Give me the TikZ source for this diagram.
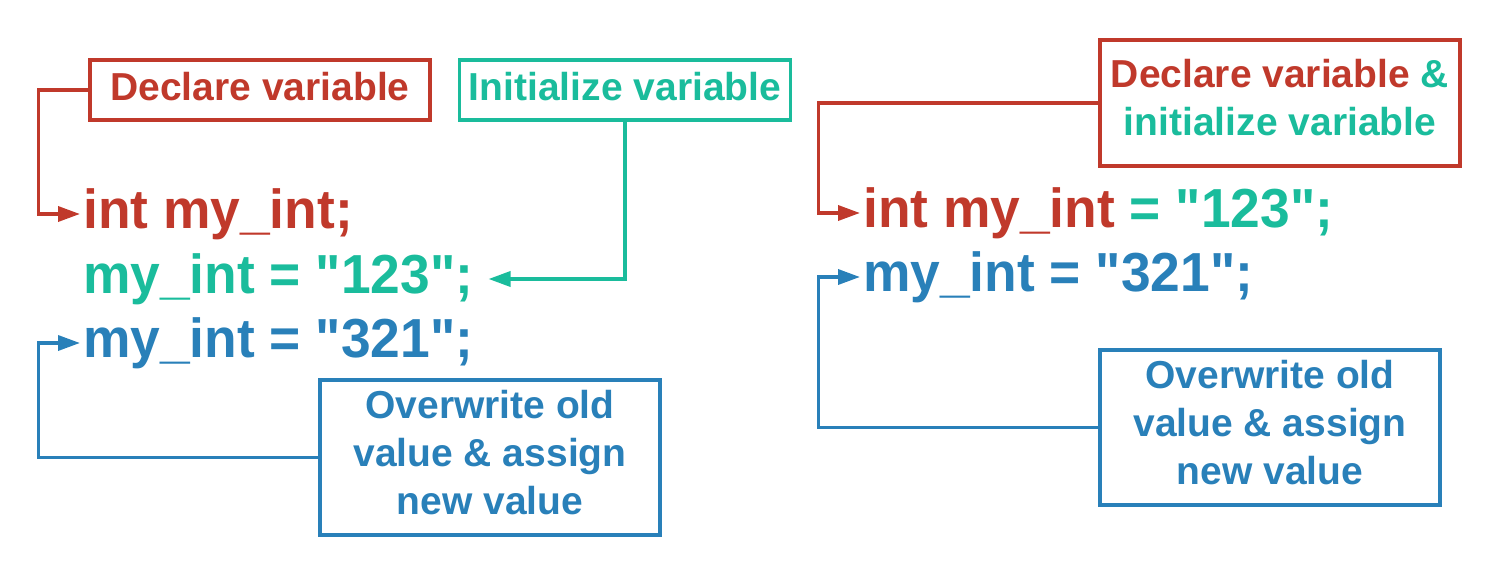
\documentclass[tikz,border=0pt]{standalone}
\usepackage{fontspec}
\setmainfont{Liberation Sans}
\newfontfamily\codefont{Liberation Sans}[FakeStretch=0.97]
\usetikzlibrary{arrows.meta}
\definecolor{cred}{HTML}{C0392B}
\definecolor{cteal}{HTML}{1ABC9C}
\definecolor{cblue}{HTML}{2980B9}
\newcommand{\uptext}[2]{\raisebox{#1}[\height][\depth]{\begin{tabular}{@{}c@{}}#2\end{tabular}}}
\begin{document}
\begin{tikzpicture}[x=1pt,y=-1pt,
  box/.style={draw, line width=3.5pt, rectangle, inner sep=0pt, align=center,
    font=\fontsize{39}{48}\selectfont\bfseries},
  code/.style={anchor=base west, inner sep=0pt, text height=40pt, text depth=12pt,
    font=\codefont\fontsize{55}{60}\selectfont\bfseries},
  conn/.style={line width=3.5pt, -{Triangle[length=22pt,width=15pt]}}]
\useasboundingbox (0,0) rectangle (1500,575);
% left side
\node[box, cred, minimum width=340pt, minimum height=60pt] (decl) at (260,90) {\uptext{-1pt}{Declare variable}};
\node[box, cteal, minimum width=331pt, minimum height=60pt] (init) at (625,90) {\uptext{-1pt}{Initialize variable}};
\node[code, cred] (l1) at (83,228) {int my\_int;};
\node[code, cteal] (l2) at (83,293) {my\_int = "123";};
\node[code, cblue] (l3) at (83,357) {my\_int = "321";};
\node[box, cblue, minimum width=340pt, minimum height=155pt] (ow1) at (490,457.5) {\uptext{1pt}{Overwrite old\\value \& assign\\new value}};
\draw[conn, cred] (decl.west) -- ++(-50,0) |- ([xshift=-3pt]l1.west);
\draw[conn, cteal] (init.south) |- ([xshift=15pt]l2.east);
\draw[conn, cblue] (ow1.west) -- ++(-280,0) |- ([xshift=-3pt]l3.west);
% right side
\node[box, cred, minimum width=360pt, minimum height=126pt] (decl2) at (1280,103)
  {\uptext{1pt}{{\color{cred}Declare variable} {\color{cteal}\&}\\{\color{cteal}initialize variable}}};
\node[code, cred] (r1) at (863,227) {int my\_int {\color{cteal}= "123";}};
\node[code, cblue] (r2) at (863,291) {my\_int = "321";};
\node[box, cblue, minimum width=340pt, minimum height=155pt] (ow2) at (1270,427.5) {\uptext{1pt}{Overwrite old\\value \& assign\\new value}};
\draw[conn, cred] (decl2.west) -- ++(-280,0) |- ([xshift=-3pt]r1.west);
\draw[conn, cblue] (ow2.west) -- ++(-280,0) |- ([xshift=-3pt]r2.west);
\end{tikzpicture}
\end{document}
